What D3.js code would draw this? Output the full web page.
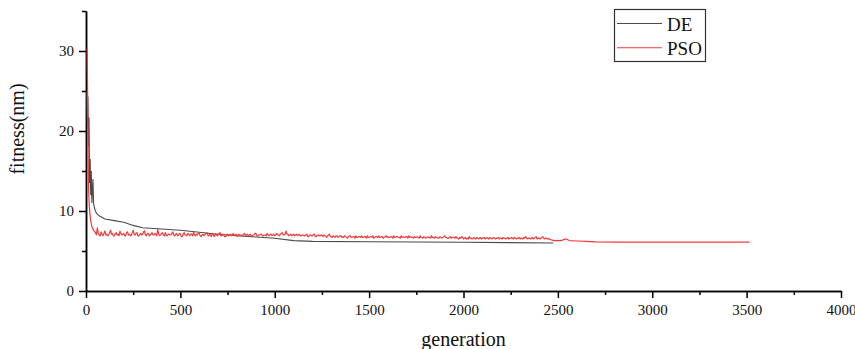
<!DOCTYPE html>
<html>
<head>
<meta charset="utf-8">
<script src="https://cdn.jsdelivr.net/npm/d3@7"></script>
<style>
  html, body { margin: 0; padding: 0; background: #fff; }
  svg { display: block; font-family: "Liberation Serif", "Times New Roman", serif; }
  svg text { font-family: "Liberation Serif", "Times New Roman", serif !important; }
</style>
</head>
<body>
<svg id="chart" width="855" height="349"></svg>
<script>
// ---------- data ----------
const seriesNames = ["DE", "PSO"];
const xTicksMajor = [0, 500, 1000, 1500, 2000, 2500, 3000, 3500, 4000];
const xTicksMinor = [250, 750, 1250, 1750, 2250, 2750, 3250, 3750];
const yTicksMajor = [0, 10, 20, 30];
const yTicksMinor = [5, 15, 25, 35];

// DE: generation / fitness
const deGen = [4, 7, 10, 13, 16, 19, 22, 25, 28, 31, 34, 37, 40, 43, 48, 56, 70, 100, 150, 200, 250, 300, 400, 500, 600, 700, 800, 900, 1000, 1100, 1200, 1500, 2000, 2475];
const deFit = [25.0, 21.0, 24.3, 18.0, 21.7, 13.5, 16.5, 12.0, 15.0, 11.0, 12.5, 14.0, 11.0, 10.6, 10.1, 9.7, 9.4, 9.0, 8.8, 8.6, 8.2, 7.9, 7.75, 7.6, 7.35, 7.1, 6.9, 6.75, 6.6, 6.3, 6.2, 6.15, 6.1, 6.0];

// PSO head: steep early descent
const psoHeadGen = [6, 8, 10, 12, 14, 17, 20, 24, 28, 32, 37, 43];
const psoHeadFit = [30.3, 26.0, 21.0, 16.0, 12.5, 10.8, 9.8, 9.0, 8.4, 8.0, 7.7, 7.5];

// PSO noisy plateau: one value every 5 generations from generation 50
const psoNoisyStart = 50;
const psoNoisyStep = 5;
const psoNoisy = [
  7.3,7.0,7.9,7.2,7.0,6.9,7.4,7.1,6.9,7.2,7.5,7.0,7.1,6.9,7.0,7.3,7.6,7.1,7.2,6.9,
  6.9,7.2,7.3,7.0,7.1,6.9,7.5,7.2,7.0,7.1,7.2,6.9,6.9,7.3,7.4,7.0,7.1,6.9,7.0,7.3,
  7.6,7.1,7.0,7.2,7.3,6.9,6.9,7.1,7.2,7.0,7.1,7.4,7.5,7.0,6.9,7.2,7.2,6.9,7.0,7.1,
  7.3,7.0,7.0,7.2,7.1,6.9,7.7,7.1,6.9,7.0,7.2,7.3,7.0,6.9,7.3,7.0,6.9,7.1,7.1,7.0,
  7.0,7.2,7.4,7.0,6.9,7.1,7.2,6.9,7.0,7.2,7.1,6.8,6.8,7.1,7.3,7.0,7.0,6.9,7.2,7.1,
  6.9,7.1,7.1,6.9,7.4,7.0,6.9,7.1,7.0,7.2,7.2,6.9,6.8,7.0,7.1,6.9,7.0,7.2,7.3,7.0,
  6.9,7.1,7.0,6.8,7.2,7.0,6.8,7.1,7.1,6.9,7.0,7.2,7.3,6.9,6.9,7.1,7.0,6.8,6.8,7.0,
  7.1,6.9,7.0,7.1,6.9,7.0,7.2,6.9,7.0,7.1,6.8,7.0,7.1,6.9,7.0,7.0,6.9,7.1,7.2,6.9,
  7.0,7.1,6.9,7.0,7.1,6.9,6.8,7.0,7.0,7.2,7.2,6.9,6.9,7.0,7.0,7.1,7.1,6.9,6.9,7.0,
  7.0,6.9,7.2,7.0,6.9,7.1,7.1,6.9,7.0,7.1,6.9,7.0,7.2,7.0,7.0,6.9,7.1,7.2,7.3,7.0,
  7.0,7.1,7.5,7.1,7.1,6.9,7.0,7.1,6.9,7.0,7.1,6.9,7.0,7.1,6.9,7.0,7.1,6.9,6.9,7.0,
  7.0,6.9,6.9,7.0,7.1,6.8,6.8,7.0,7.0,6.9,6.9,7.1,7.1,6.8,6.8,7.0,7.0,6.9,6.9,7.0,
  6.9,6.8,7.0,6.9,6.8,6.7,6.9,7.0,7.1,6.8,6.8,6.7,6.9,6.8,6.7,6.9,6.9,6.7,6.8,6.9,
  6.9,6.7,6.8,6.7,6.9,6.8,6.7,6.6,6.8,6.9,6.9,6.7,6.7,6.8,6.8,6.6,6.9,6.7,6.7,6.8,
  6.8,6.7,6.9,6.7,6.7,6.8,6.8,6.6,6.9,6.7,6.7,6.8,6.8,6.7,6.9,6.6,6.7,6.8,6.8,6.7,
  6.9,6.7,6.7,6.8,6.8,6.6,6.7,6.8,6.9,6.7,6.8,6.7,6.7,6.8,6.8,6.6,6.9,6.7,6.7,6.8,
  6.8,6.7,6.7,6.6,6.9,6.7,6.8,6.7,6.7,6.8,6.8,6.6,6.9,6.7,6.8,6.7,6.7,6.6,6.8,6.7,
  6.7,6.8,6.7,6.6,6.9,6.7,6.7,6.6,6.8,6.7,6.6,6.7,6.8,6.7,6.7,6.6,6.9,6.7,6.7,6.6,
  6.8,6.7,6.7,6.6,6.6,6.8,6.7,6.6,6.7,6.8,6.9,6.7,6.7,6.6,6.6,6.7,6.8,6.6,6.7,6.7,
  6.7,6.6,6.8,6.6,6.6,6.5,6.7,6.6,6.8,6.7,6.5,6.6,6.7,6.5,6.6,6.5,6.8,6.6,6.6,6.5,
  6.6,6.7,6.6,6.5,6.7,6.6,6.5,6.6,6.7,6.5,6.6,6.6,6.7,6.5,6.6,6.7,6.6,6.5,6.7,6.6,
  6.5,6.6,6.7,6.6,6.5,6.6,6.6,6.7,6.5,6.6,6.6,6.5,6.7,6.6,6.6,6.5,6.6,6.7,6.5,6.6,
  6.6,6.7,6.6,6.5,6.7,6.6,6.5,6.6,6.6,6.7,6.5,6.6,6.6,6.5,6.7,6.6,6.8,6.6,6.5,6.6,
  6.6,6.5,6.6,6.7,6.5,6.6,6.7,6.8,6.5,6.6,6.6,6.5,6.6,6.7,6.8,6.6,6.5,6.6,6.6,6.5,
  6.55
];

// PSO tail: convergence
const psoTailGen = [2465, 2480, 2500, 2520, 2535, 2545, 2560, 2600, 2650, 2700, 2800, 3000, 3515];
const psoTailFit = [6.4, 6.3, 6.3, 6.32, 6.45, 6.5, 6.3, 6.25, 6.2, 6.15, 6.12, 6.1, 6.1];

// ---------- build ----------
const dePts = deGen.map((g, i) => [g, deFit[i]]);
const psoPts = psoHeadGen.map((g, i) => [g, psoHeadFit[i]])
  .concat(psoNoisy.map((v, i) => [psoNoisyStart + i * psoNoisyStep, v]))
  .concat(psoTailGen.map((g, i) => [g, psoTailFit[i]]));

const colors = { DE: "#4a4a4a", PSO: "#f03a3a" };
const FONT = "'Liberation Serif', 'Times New Roman', serif";

const svg = d3.select("#chart");

const x = d3.scaleLinear().domain([0, 4000]).range([86, 841]);
const y = d3.scaleLinear().domain([0, 35]).range([291, 11]);

// axes
function styleAxis(g) {
  g.attr("font-family", FONT).attr("font-size", 15);
  g.select(".domain").attr("stroke", "#000").attr("stroke-width", 1.5);
  g.selectAll(".tick line").attr("stroke", "#000").attr("stroke-width", 1.5);
  g.selectAll(".tick text").attr("fill", "#111");
}

const xAxisMinor = svg.append("g").attr("transform", `translate(0,${y(0)})`)
  .call(d3.axisBottom(x).tickValues(xTicksMinor).tickSize(4).tickFormat("").tickSizeOuter(0));
styleAxis(xAxisMinor);
const xAxis = svg.append("g").attr("transform", `translate(0,${y(0)})`)
  .call(d3.axisBottom(x).tickValues(xTicksMajor).tickSize(7).tickPadding(6).tickSizeOuter(0).tickFormat(d3.format("d")));
styleAxis(xAxis);

const yAxisMinor = svg.append("g").attr("transform", `translate(${x(0)},0)`)
  .call(d3.axisLeft(y).tickValues(yTicksMinor).tickSize(4).tickFormat("").tickSizeOuter(0));
styleAxis(yAxisMinor);
const yAxis = svg.append("g").attr("transform", `translate(${x(0)},0)`)
  .call(d3.axisLeft(y).tickValues(yTicksMajor).tickSize(7).tickPadding(5).tickSizeOuter(0).tickFormat(d3.format("d")));
styleAxis(yAxis);

// data lines (on top of axes)
const line = d3.line().x(d => x(d[0])).y(d => y(d[1]));
svg.append("path").datum(dePts)
  .attr("fill", "none").attr("stroke", colors.DE).attr("stroke-width", 1.1)
  .attr("d", line);
svg.append("path").datum(psoPts)
  .attr("fill", "none").attr("stroke", colors.PSO).attr("stroke-width", 1.2)
  .attr("stroke-linejoin", "round")
  .attr("d", line);

// axis titles
svg.append("text")
  .attr("x", x(2000)).attr("y", 346)
  .attr("text-anchor", "middle")
  .attr("font-family", FONT).attr("font-size", 20).attr("fill", "#111")
  .text("generation");
svg.append("text")
  .attr("transform", "translate(24,129) rotate(-90)")
  .attr("text-anchor", "middle")
  .attr("font-family", FONT).attr("font-size", 20).attr("fill", "#111")
  .text("fitness(nm)");

// legend
const lg = svg.append("g");
lg.append("rect").attr("x", 614.5).attr("y", 9.5).attr("width", 91).attr("height", 52)
  .attr("fill", "#fff").attr("stroke", "#333").attr("stroke-width", 1.2);
seriesNames.forEach((name, i) => {
  const yy = 23.5 + i * 24.3;
  lg.append("line").attr("x1", 617).attr("x2", 662).attr("y1", yy).attr("y2", yy)
    .attr("stroke", colors[name]).attr("stroke-width", 1.1);
  lg.append("text").attr("x", 667).attr("y", yy + 7)
    .attr("font-family", FONT).attr("font-size", 19).attr("fill", "#111").text(name);
});
</script>
</body>
</html>
